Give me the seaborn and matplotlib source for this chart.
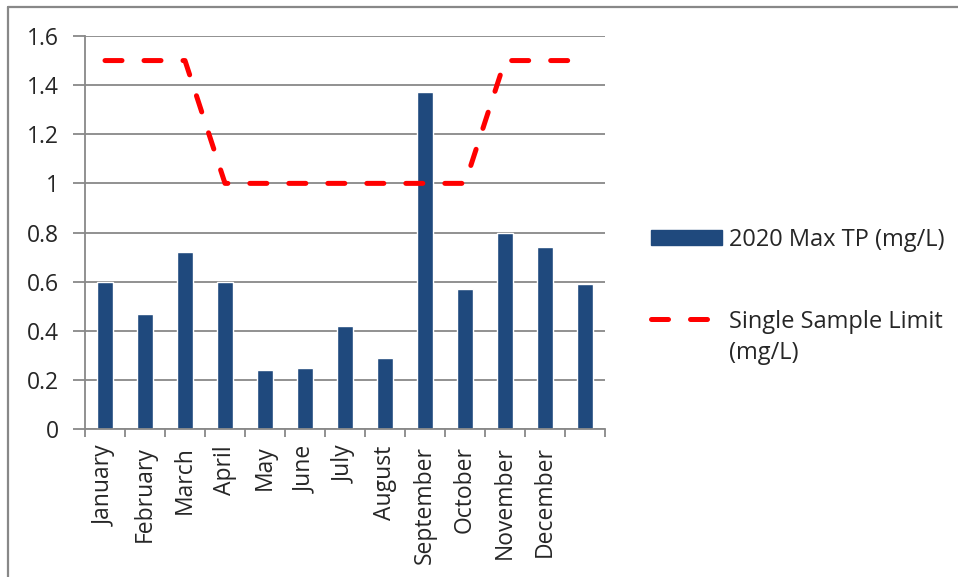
import matplotlib
matplotlib.use("Agg")
import matplotlib.pyplot as plt
import seaborn as sns
from matplotlib.lines import Line2D
from matplotlib.patches import Patch
from matplotlib.ticker import FixedLocator, NullFormatter

# datos
meses = ["January", "February", "March", "April", "May", "June", "July",
         "August", "September", "October", "November", "December", ""]
tp_max = [0.60, 0.47, 0.72, 0.60, 0.24, 0.25, 0.42, 0.29, 1.37, 0.57, 0.80, 0.74, 0.59]
limite = [1.5, 1.5, 1.5, 1.0, 1.0, 1.0, 1.0, 1.0, 1.0, 1.0, 1.5, 1.5, 1.5]
y_ticks = [0, 0.2, 0.4, 0.6, 0.8, 1.0, 1.2, 1.4, 1.6]

sns.set_theme(style="white")
plt.rcParams['font.family'] = ['Open Sans', 'DejaVu Sans']

gris = "#888888"
azul = "#1F497D"

fig = plt.figure(figsize=(9.58, 5.77), dpi=100)
ax = fig.add_axes([85 / 958, 1 - 429 / 577, 520 / 958, 393 / 577])

sns.barplot(x=meses, y=tp_max, order=meses, color=azul, width=0.4,
            saturation=1, ax=ax, zorder=2)
sns.lineplot(x=list(range(len(meses))), y=limite, ax=ax, color="#FF0000",
             lw=3.6, zorder=3)
ax.lines[-1].set_dashes((3.4, 4.4))
ax.lines[-1].set_dash_capstyle("round")
ax.lines[-1].set_solid_capstyle("round")

ax.set_xlim(-0.5, len(meses) - 0.5)
ax.set_ylim(0, 1.6)
ax.set_yticks(y_ticks)
ax.set_yticklabels([f"{v:g}" for v in y_ticks])
ax.yaxis.grid(True, color=gris, lw=1.3, zorder=0)
ax.xaxis.grid(False)
ax.set_axisbelow(True)

# etiquetas en el centro, marcas en los limites
ax.set_xticks(range(len(meses)))
ax.set_xticklabels(meses)
ax.xaxis.set_minor_locator(FixedLocator([i - 0.5 for i in range(len(meses) + 1)]))
ax.xaxis.set_minor_formatter(NullFormatter())
ax.tick_params(axis="x", which="major", length=0, pad=12, labelsize=16.5,
               labelrotation=90)
ax.tick_params(axis="x", which="minor", length=6, width=1.3, color=gris,
               direction="out", bottom=True)
ax.tick_params(axis="y", length=9, width=1.3, color=gris, direction="out",
               left=True, pad=10, labelsize=16.5)
ax.set_xlabel("")
ax.set_ylabel("")

for lado in ["top", "right"]:
    ax.spines[lado].set_visible(False)
for lado in ["left", "bottom"]:
    ax.spines[lado].set_color(gris)
    ax.spines[lado].set_linewidth(1.3)

handles = [
    Patch(facecolor=azul, edgecolor=azul),
    Line2D([0], [0], color="#FF0000", lw=3.6, dashes=(3.4, 4.4),
           dash_capstyle="round"),
]
leg = fig.legend(handles, ["2020 Max TP (mg/L)", "Single Sample Limit\n(mg/L)"],
                 loc="upper left", bbox_to_anchor=(630 / 958, 1 - 207 / 577),
                 frameon=False, fontsize=17, handlelength=3.0, handleheight=0.6,
                 labelspacing=2.45, handletextpad=0.3)
for t in leg.get_texts():
    t.set_linespacing(1.4)
# la linea de la leyenda va a la altura de la primera linea del texto
linea_leg = leg.legend_handles[1]
linea_leg.set_ydata([y + 14.5 for y in linea_leg.get_ydata()])

# borde del grafico
fig.add_artist(Line2D([8 / 958, 8 / 958], [0, 1 - 6.5 / 577],
                      transform=fig.transFigure, color=gris, lw=1.6))
fig.add_artist(Line2D([8 / 958, 1], [1 - 6.5 / 577, 1 - 6.5 / 577],
                      transform=fig.transFigure, color=gris, lw=1.6))

fig.savefig("out.png", dpi=100)
